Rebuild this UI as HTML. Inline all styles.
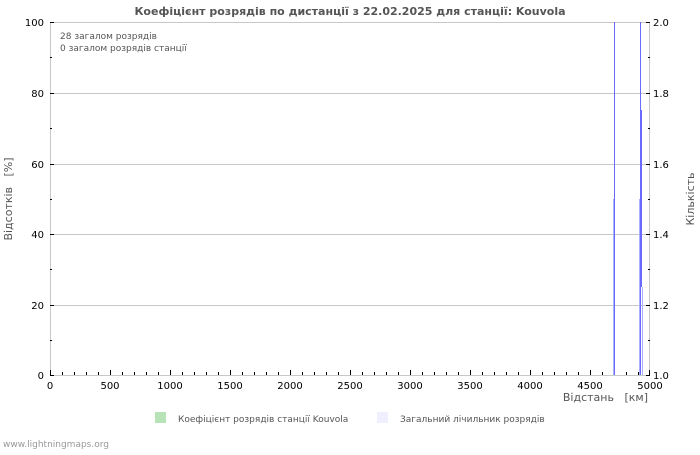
<!DOCTYPE html>
<html><head><meta charset="utf-8"><style>
body{margin:0;background:#fff;}
svg text{font-family:"DejaVu Sans","Liberation Sans",sans-serif;white-space:pre;}
</style></head><body>
<svg width="700" height="450" xmlns="http://www.w3.org/2000/svg">
<rect width="700" height="450" fill="#fff"/>
<text x="350" y="15" text-anchor="middle" font-size="11" font-weight="bold" fill="#555">Коефіцієнт розрядів по дистанції з 22.02.2025 для станції: Kouvola</text>
<g stroke="#c8c8c8" stroke-width="1">
<line x1="50" y1="93.5" x2="650" y2="93.5"/>
<line x1="50" y1="164.5" x2="650" y2="164.5"/>
<line x1="50" y1="234.5" x2="650" y2="234.5"/>
<line x1="50" y1="305.5" x2="650" y2="305.5"/>
<rect x="50.5" y="22.5" width="599" height="353" fill="none"/>
</g>
<path stroke="#000" stroke-width="1" fill="none" d="
M50.5 375v-5M62.5 375v-3M74.5 375v-3M86.5 375v-3M98.5 375v-3M110.5 375v-5M122.5 375v-3M134.5 375v-3M146.5 375v-3M158.5 375v-3
M170.5 375v-5M182.5 375v-3M194.5 375v-3M206.5 375v-3M218.5 375v-3M230.5 375v-5M242.5 375v-3M254.5 375v-3M266.5 375v-3M278.5 375v-3
M290.5 375v-5M302.5 375v-3M314.5 375v-3M326.5 375v-3M338.5 375v-3M350.5 375v-5M362.5 375v-3M374.5 375v-3M386.5 375v-3M398.5 375v-3
M410.5 375v-5M422.5 375v-3M434.5 375v-3M446.5 375v-3M458.5 375v-3M470.5 375v-5M482.5 375v-3M494.5 375v-3M506.5 375v-3M518.5 375v-3
M530.5 375v-5M542.5 375v-3M554.5 375v-3M566.5 375v-3M578.5 375v-3M590.5 375v-5M602.5 375v-3M614.5 375v-3M626.5 375v-3M638.5 375v-3M649.5 375v-5
M50 22.5h4M50 57.5h2M50 93.5h4M50 128.5h2M50 164.5h4M50 199.5h2M50 234.5h4M50 269.5h2M50 305.5h4M50 340.5h2M50 375.5h4
M650 22.5h-4M650 57.5h-2M650 93.5h-4M650 128.5h-2M650 164.5h-4M650 199.5h-2M650 234.5h-4M650 269.5h-2M650 305.5h-4M650 340.5h-2M650 375.5h-4"/>
<g stroke="#aab0ff" stroke-width="1">
<line x1="613.5" y1="199" x2="613.5" y2="375"/>
<line x1="639.5" y1="199" x2="639.5" y2="375"/>
<line x1="642.5" y1="287" x2="642.5" y2="375"/>
</g>
<g stroke="#6a6aff" stroke-width="1">
<line x1="614.5" y1="22" x2="614.5" y2="375"/>
<line x1="640.5" y1="22" x2="640.5" y2="375"/>
<line x1="641.5" y1="110" x2="641.5" y2="287"/>
</g>
<g font-size="10" fill="#000">
<text x="44" y="26" text-anchor="end">100</text>
<text x="44" y="97" text-anchor="end">80</text>
<text x="44" y="168" text-anchor="end">60</text>
<text x="44" y="238" text-anchor="end">40</text>
<text x="44" y="309" text-anchor="end">20</text>
<text x="44" y="379" text-anchor="end">0</text>
<text x="653" y="26">2.0</text>
<text x="653" y="97">1.8</text>
<text x="653" y="168">1.6</text>
<text x="653" y="238">1.4</text>
<text x="653" y="309">1.2</text>
<text x="653" y="379">1.0</text>
<text x="50" y="389" text-anchor="middle">0</text>
<text x="110" y="389" text-anchor="middle">500</text>
<text x="170" y="389" text-anchor="middle">1000</text>
<text x="230" y="389" text-anchor="middle">1500</text>
<text x="290" y="389" text-anchor="middle">2000</text>
<text x="350" y="389" text-anchor="middle">2500</text>
<text x="410" y="389" text-anchor="middle">3000</text>
<text x="470" y="389" text-anchor="middle">3500</text>
<text x="530" y="389" text-anchor="middle">4000</text>
<text x="590" y="389" text-anchor="middle">4500</text>
<text x="650" y="389" text-anchor="middle">5000</text>
</g>
<g font-size="9" fill="#555">
<text x="60" y="39">28 загалом розрядів</text>
<text x="60" y="51">0 загалом розрядів станції</text>
</g>
<text x="648" y="401" text-anchor="end" font-size="11" fill="#555">Відстань   [км]</text>
<text transform="translate(12,199) rotate(-90)" text-anchor="middle" font-size="11" fill="#555">Відсоткiв   [%]</text>
<text transform="translate(694,199) rotate(-90)" text-anchor="middle" font-size="11" fill="#555">Кількість</text>
<rect x="155" y="412" width="11" height="11" fill="#b8e2b8"/>
<text x="178" y="422" font-size="9" fill="#555">Коефіцієнт розрядів станції Kouvola</text>
<rect x="377" y="412" width="11" height="11" fill="#efefff"/>
<text x="400" y="422" font-size="9" fill="#555">Загальний лічильник розрядів</text>
<text x="3" y="447" font-size="9" fill="#999">www.lightningmaps.org</text>
</svg>
</body></html>
